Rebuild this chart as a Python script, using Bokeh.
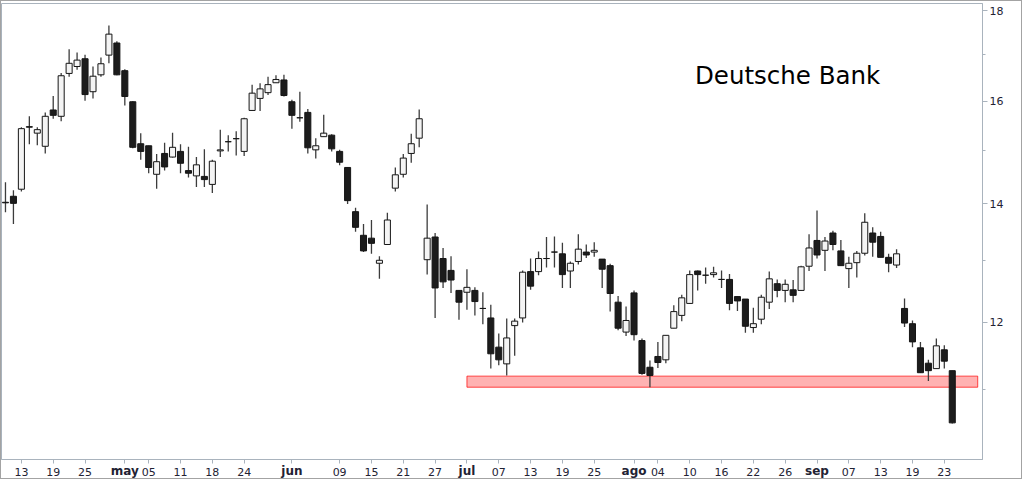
import numpy as np
from bokeh.plotting import figure
from bokeh.models import Range1d, FixedTicker, PrintfTickFormatter, Label, ColumnDataSource, LinearAxis
from bokeh.embed import file_html
from bokeh.resources import INLINE

# ---- data (Deutsche Bank, daily candles, trading-day index 0 = Apr 11) ----
opens = [14.03, 14.14, 14.27, 15.48, 15.35, 15.09, 15.82, 15.69, 16.59, 16.74,
         16.91, 16.20, 16.56, 16.99, 17.26, 16.65, 15.99, 15.14, 15.10, 14.55,
         14.95, 14.88, 14.99, 14.62, 14.52, 14.51, 14.36, 15.00, 15.18, 15.24,
         14.99, 15.81, 16.06, 16.18, 16.39, 16.45, 15.99, 15.66, 15.77, 15.02,
         15.28, 15.31, 14.99, 14.68, 13.86, 13.44, 13.39, 12.96, 13.28, 14.29,
         14.55, 14.95, 15.25, 13.02, 13.41, 13.04, 12.84, 12.51, 12.48, 12.51,
         12.22, 12.07, 11.62, 11.37, 11.95, 12.07, 12.82, 12.82, 13.04, 13.15,
         13.12, 12.83, 12.99, 13.15, 13.15, 13.03, 12.92, 12.32, 11.85, 12.47,
         11.72, 11.32, 11.48, 11.43, 11.91, 12.11, 12.30, 12.83, 12.76, 12.77,
         12.69, 12.69, 12.41, 12.37, 11.92, 12.05, 12.32, 12.62, 12.51, 12.52,
         12.51, 12.91, 13.35, 13.18, 13.48, 13.17, 12.87, 12.97, 13.13, 13.48,
         13.42, 13.06, 12.93, 12.22, 11.98, 11.61, 11.38, 11.30, 11.58, 11.27]
highs = [14.40, 14.25, 15.47, 15.69, 15.47, 15.77, 16.11, 16.60, 17.12, 17.05,
         17.00, 16.74, 16.94, 17.66, 17.30, 16.68, 16.00, 15.35, 15.10, 14.94,
         15.16, 15.36, 15.13, 15.08, 14.88, 15.03, 14.83, 15.42, 15.31, 15.39,
         15.66, 16.35, 16.38, 16.52, 16.55, 16.56, 16.03, 16.20, 15.84, 15.25,
         15.72, 15.33, 15.02, 14.69, 13.93, 13.64, 13.71, 13.08, 13.84, 14.68,
         14.94, 15.34, 15.83, 13.99, 13.48, 13.22, 13.08, 12.51, 12.86, 12.56,
         12.48, 12.28, 11.83, 12.06, 12.06, 12.84, 13.04, 13.16, 13.41, 13.42,
         13.31, 12.99, 13.46, 13.28, 13.32, 13.03, 12.95, 12.42, 12.25, 12.51,
         11.75, 11.42, 11.70, 11.80, 12.27, 12.44, 12.84, 12.84, 12.89, 12.90,
         12.84, 12.78, 12.41, 12.37, 12.23, 12.44, 12.82, 12.69, 12.69, 12.68,
         12.92, 13.46, 13.88, 13.41, 13.52, 13.36, 13.07, 13.17, 13.83, 13.58,
         13.50, 13.12, 13.20, 12.38, 12.03, 11.70, 11.43, 11.75, 11.65, 11.27]
lows = [13.85, 13.64, 14.23, 15.13, 15.11, 14.95, 15.64, 15.59, 16.52, 16.67,
        16.01, 16.06, 16.52, 16.81, 16.55, 15.91, 15.05, 14.83, 14.57, 14.28,
        14.62, 14.87, 14.57, 14.49, 14.31, 14.31, 14.20, 14.88, 14.99, 14.91,
        14.90, 15.81, 15.80, 16.13, 16.39, 16.10, 15.44, 15.58, 14.95, 14.85,
        15.28, 14.99, 14.72, 14.00, 13.50, 13.15, 13.12, 12.70, 13.27, 14.23,
        14.49, 14.77, 15.07, 12.77, 12.07, 12.55, 12.47, 12.04, 12.20, 12.11,
        11.97, 11.30, 11.35, 11.20, 11.49, 12.00, 12.52, 12.76, 12.89, 12.89,
        12.55, 12.55, 12.94, 13.05, 13.07, 12.55, 12.17, 11.88, 11.79, 11.72,
        11.21, 11.03, 11.31, 11.38, 11.91, 12.02, 12.29, 12.51, 12.62, 12.72,
        12.55, 12.19, 12.18, 11.84, 11.84, 11.97, 12.21, 12.40, 12.32, 12.32,
        12.50, 12.83, 13.04, 12.83, 13.18, 12.92, 12.55, 12.72, 13.09, 13.07,
        13.06, 12.81, 12.88, 11.93, 11.62, 11.24, 11.12, 11.30, 11.30, 10.52]
closes = [14.02, 14.01, 15.44, 15.47, 15.42, 15.69, 15.71, 16.54, 16.81, 16.88,
          16.14, 16.53, 16.80, 17.46, 16.56, 16.10, 15.07, 14.99, 14.68, 14.79,
          14.69, 15.07, 14.76, 14.57, 14.73, 14.45, 14.80, 15.02, 15.18, 15.24,
          15.64, 16.17, 16.26, 16.35, 16.46, 16.12, 15.71, 15.66, 15.06, 15.10,
          15.35, 15.04, 14.78, 14.06, 13.58, 13.17, 13.30, 13.01, 13.71, 14.54,
          14.86, 15.14, 15.64, 13.39, 12.55, 12.65, 12.68, 12.32, 12.56, 12.33,
          12.22, 11.52, 11.43, 11.76, 12.02, 12.81, 12.58, 13.04, 13.04, 13.15,
          12.77, 12.96, 13.20, 13.10, 13.18, 12.86, 12.46, 11.91, 12.03, 11.81,
          11.23, 11.20, 11.39, 11.80, 12.17, 12.39, 12.77, 12.77, 12.76, 12.80,
          12.69, 12.30, 12.34, 11.94, 11.98, 12.40, 12.70, 12.51, 12.61, 12.43,
          12.90, 13.22, 13.10, 13.34, 13.28, 12.92, 12.96, 13.13, 13.67, 13.32,
          13.06, 12.96, 13.12, 11.99, 11.70, 11.24, 11.27, 11.64, 11.41, 10.53]

day_tick_pos = [2, 6, 10, 18, 22, 26, 30, 42, 46, 50, 54, 62, 66, 70, 74,
                82, 86, 90, 94, 98, 106, 110, 114, 118]
day_tick_labels = ["13", "19", "25", "05", "11", "18", "24", "09", "15", "21", "27",
                   "07", "13", "19", "25", "04", "10", "16", "22", "26",
                   "07", "13", "19", "23"]
month_tick_pos = [15, 36, 58, 79, 102]
month_tick_labels = ["may", "jun", "jul", "ago", "sep"]

price_ticks = [12, 14, 16, 18]
price_minor_ticks = [11, 13, 15, 17]

support_low = 11.03
support_high = 11.19
support_start = 58      # Jul 1
support_end = 122.2

title_text = "Deutsche Bank"

# ---- figure ----
X_START, X_END = -0.5, 122.8
Y_START, Y_END = 10.04, 18.17
FRAME_H = 456
AXIS_COLOR = "#a9b3bd"
TEXT_COLOR = "#222233"

p = figure(width=1022, height=479, y_axis_type="log", y_axis_location="right",
           x_range=Range1d(X_START, X_END), y_range=Range1d(Y_START, Y_END),
           output_backend="svg", toolbar_location=None,
           min_border_left=0, min_border_right=41, min_border_top=2, min_border_bottom=21,
           background_fill_color="white", border_fill_color="white")
p.styles = {"border": "1px solid #a3a3a3"}
p.grid.visible = False
p.outline_line_color = AXIS_COLOR
p.outline_line_width = 1

idx = np.arange(len(opens))
o = np.array(opens); c = np.array(closes)
up = c >= o
src = ColumnDataSource(dict(
    x=idx, high=highs, low=lows,
    top=np.maximum(o, c), bottom=np.minimum(o, c),
    fill=np.where(up, "#f4f4f4", "#1c1c1c"),
))

# support zone
p.quad(left=[support_start], right=[support_end], bottom=[support_low], top=[support_high],
       fill_color="red", fill_alpha=0.3, line_color="red", line_alpha=0.7, line_width=1)

p.segment(x0="x", y0="low", x1="x", y1="high", source=src, line_color="#3c3c3c", line_width=1.3)
p.vbar(x="x", width=0.76, top="top", bottom="bottom", source=src,
       fill_color="fill", line_color="#151515", line_width=1)

# right price axis
ya = p.yaxis[0]
ya.ticker = FixedTicker(ticks=price_ticks, minor_ticks=price_minor_ticks)
ya.formatter = PrintfTickFormatter(format="%d")
ya.axis_line_color = AXIS_COLOR
ya.major_tick_line_color = AXIS_COLOR
ya.minor_tick_line_color = AXIS_COLOR
ya.major_tick_in = 0
ya.major_tick_out = 5
ya.minor_tick_in = 0
ya.minor_tick_out = 3
ya.major_label_standoff = 2
ya.major_label_text_font = "DejaVu Sans"
ya.major_label_text_font_size = "11px"
ya.major_label_text_color = TEXT_COLOR

# bottom date axis (day numbers)
xa = p.xaxis[0]
all_pos = sorted(day_tick_pos + month_tick_pos)
xa.ticker = FixedTicker(ticks=all_pos, minor_ticks=[])
overrides = {pos: lab for pos, lab in zip(day_tick_pos, day_tick_labels)}
overrides.update({pos: "" for pos in month_tick_pos})
xa.major_label_overrides = overrides
xa.axis_line_color = AXIS_COLOR
xa.major_tick_line_color = AXIS_COLOR
xa.major_tick_in = 0
xa.major_tick_out = 4
xa.major_label_standoff = 4
xa.major_label_text_font = "DejaVu Sans"
xa.major_label_text_font_size = "11px"
xa.major_label_text_color = TEXT_COLOR

# bold month names, drawn on the same row as the day numbers
ma = LinearAxis(ticker=FixedTicker(ticks=month_tick_pos, minor_ticks=[]),
                major_label_overrides={pos: lab for pos, lab in zip(month_tick_pos, month_tick_labels)},
                axis_line_color=None, major_tick_line_color=None, minor_tick_line_color=None,
                major_tick_in=0, major_tick_out=0, major_label_standoff=-15,
                major_label_text_font="DejaVu Sans", major_label_text_font_size="12px",
                major_label_text_font_style="bold", major_label_text_color=TEXT_COLOR)
p.add_layout(ma, "below")

title_y = Y_END * (Y_START / Y_END) ** (72.0 / FRAME_H)
p.add_layout(Label(x=98.3, y=title_y, text=title_text, text_font="DejaVu Sans",
                   text_font_size="24.5px", text_color="#000000",
                   text_align="center", text_baseline="middle"))

open("out.html", "w").write(file_html(p, INLINE))
